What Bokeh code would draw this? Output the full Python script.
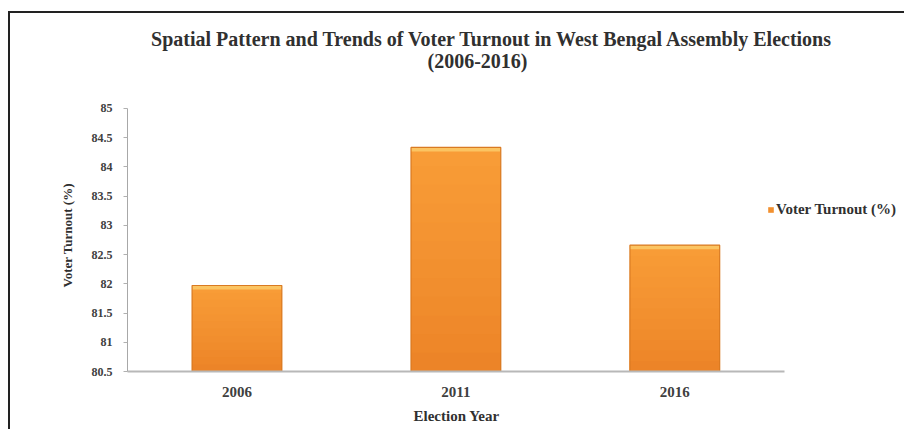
from bokeh.plotting import figure
from bokeh.models import (ColumnDataSource, FixedTicker, Label, Legend, LegendItem, Range1d, Title)
from bokeh.embed import file_html
from bokeh.resources import INLINE

years = ["2006", "2011", "2016"]
turnout = [81.97, 84.33, 82.66]
y_ticks = [80.5, 81, 81.5, 82, 82.5, 83, 83.5, 84, 84.5, 85]
y_tick_labels = ["80.5", "81", "81.5", "82", "82.5", "83", "83.5", "84", "84.5", "85"]
title_lines = ["Spatial Pattern and Trends of Voter Turnout in West Bengal Assembly Elections", "(2006-2016)"]
series_name = "Voter Turnout (%)"
x_title = "Election Year"

Y_MIN, Y_MAX = 80.5, 85
FONT = "Liberation Serif"
x_pos = list(range(len(years)))

p = figure(x_range=Range1d(-0.5, 3.04), y_range=Range1d(Y_MIN, 86.5),
           frame_width=775, frame_height=351,
           output_backend="svg", toolbar_location=None, tools="",
           min_border_left=117, min_border_right=2, min_border_top=7, min_border_bottom=20)
p.title.visible = False
p.title.standoff = 0
p.styles = {"border-left": "2px solid #222222", "border-top": "2px solid #222222",
            "margin-top": "11px", "margin-left": "8px"}
p.outline_line_color = None
p.background_fill_color = "white"
p.border_fill_color = "white"
p.xgrid.grid_line_color = None
p.ygrid.grid_line_color = None

# gradient-like bars: nested bars from base, lighter (taller) first, darker (shorter) on top
n_bands = 12
band_colors = ["#EC8428", "#EE8729", "#EF892B", "#F08C2C", "#F18E2E", "#F2902F",
               "#F39231", "#F49432", "#F59633", "#F69834", "#F79A35", "#F89C37"]
band_renderers = []
for i in range(n_bands - 1, -1, -1):
    tops = [Y_MIN + (v - Y_MIN) * (i + 1) / n_bands for v in turnout]
    src = ColumnDataSource(dict(x=x_pos, b=[Y_MIN] * len(years), t=tops))
    band_renderers.append(p.vbar(x="x", bottom="b", top="t", width=0.41, source=src,
                                 fill_color=band_colors[i], line_color=None))

main_src = ColumnDataSource(dict(x=x_pos, top=turnout, base=[Y_MIN] * len(years),
                                 cap=[v - 0.07 for v in turnout]))
p.vbar(x="x", bottom="cap", top="top", width=0.41, source=main_src,
       fill_color="#FBC462", line_color=None)
p.vbar(x="x", bottom="base", top="top", width=0.41, source=main_src,
       fill_color=None, line_color="#D97A22", line_width=1.2)

# axes
p.yaxis.ticker = FixedTicker(ticks=y_ticks)
p.yaxis.major_label_overrides = {t: l for t, l in zip(y_ticks, y_tick_labels)}
p.yaxis.bounds = (Y_MIN, Y_MAX)
p.yaxis.minor_tick_line_color = None
p.yaxis.major_tick_in = 0
p.yaxis.major_tick_out = 4
p.yaxis.major_tick_line_color = "#B0B0B0"
p.yaxis.axis_line_color = "#A8A8A8"
p.yaxis.major_label_standoff = 11
p.yaxis.major_label_text_font_size = "12px"

p.xaxis.ticker = FixedTicker(ticks=x_pos)
p.xaxis.major_label_overrides = {i: y for i, y in zip(x_pos, years)}
p.xaxis.bounds = (-0.5, len(years) - 0.5)
p.xaxis.major_tick_line_color = None
p.xaxis.minor_tick_line_color = None
p.xaxis.axis_line_color = "#B8B8B8"
p.xaxis.axis_line_width = 2
p.xaxis.major_label_standoff = 9
p.xaxis.major_label_text_font_size = "15px"

for ax in (p.xaxis, p.yaxis):
    ax.major_label_text_font = FONT
    ax.major_label_text_font_style = "bold"
    ax.major_label_text_color = "#404040"

# axis titles
p.add_layout(Title(text=x_title, align="left", offset=286, text_font=FONT,
                   text_font_style="bold", text_font_size="15px",
                   text_color="#303030", standoff=13), "below")
p.add_layout(Title(text=series_name, align="left", offset=84, text_font=FONT,
                   text_font_style="bold", text_font_size="13px",
                   text_color="#303030", standoff=28), "left")

# chart title lines (inside the frame area, screen units from frame bottom-left)
title_pos = [(365, 333), (350, 311)]
for line, (tx, ty) in zip(title_lines, title_pos):
    p.add_layout(Label(x=tx, y=ty, x_units="screen", y_units="screen", text=line,
                       text_align="center", text_baseline="middle", text_font=FONT,
                       text_font_style="bold", text_font_size="20px",
                       text_color="#303030"))

legend = Legend(items=[LegendItem(label=series_name, renderers=[band_renderers[6]])],
                location=(640, 153), padding=0, margin=0, border_line_color=None,
                background_fill_alpha=0, glyph_width=7, glyph_height=7,
                label_height=12, label_text_font=FONT, label_text_font_style="bold",
                label_text_font_size="15px", label_text_color="#303030",
                label_standoff=2)
p.add_layout(legend)

open("out.html", "w").write(file_html(p, INLINE))
